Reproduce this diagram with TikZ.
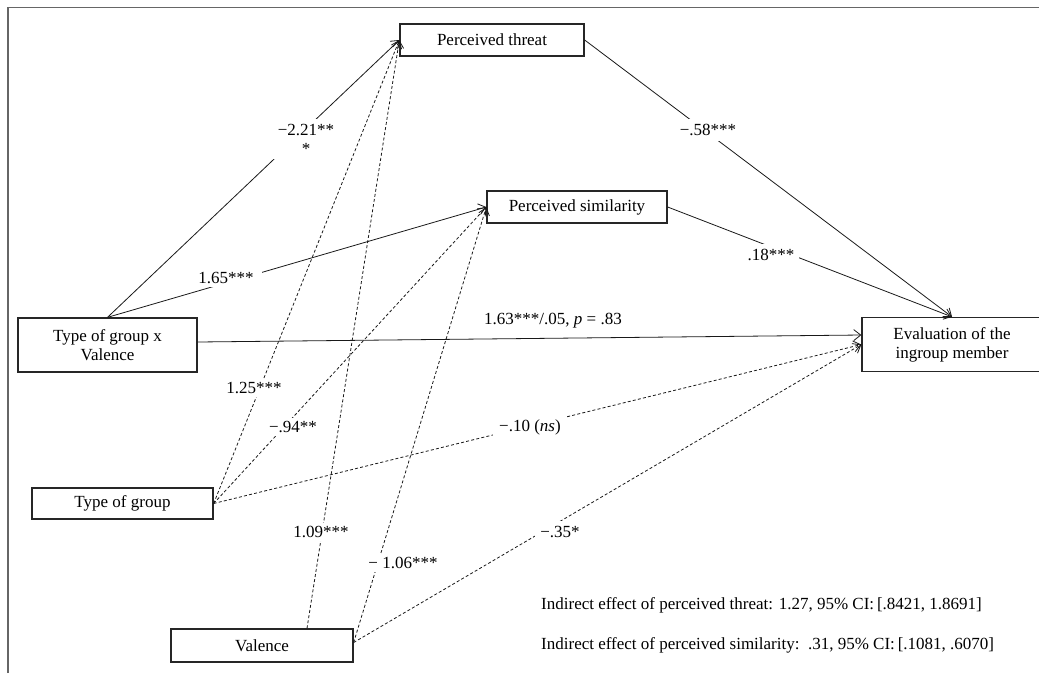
\documentclass[tikz,border=0pt]{standalone}
\usepackage{fontspec}
\setmainfont{Liberation Serif}
\usetikzlibrary{arrows.meta}
\begin{document}
\begin{tikzpicture}[x=1pt,y=-1pt,
  every node/.style={font=\fontsize{17}{19}\selectfont},
  box/.style={draw=black!85, line width=1.3pt, rectangle, inner sep=0pt, align=center},
  lbl/.style={fill=white, inner sep=3pt, align=center},
  conn/.style={line width=0.8pt, black!90, -{Straight Barb[length=7pt,width=11pt]}},
  dconn/.style={conn, dash pattern=on 3pt off 2.2pt}
]
\useasboundingbox (0,0) rectangle (1039,673);
% frame
\draw[black!60, line width=1.6pt] (8,673) -- (8,7.5) -- (1039,7.5);
% nodes
\node[box, minimum width=184pt, minimum height=32pt] (thr) at (492,40) {Perceived threat};
\node[box, minimum width=180pt, minimum height=32pt] (sim) at (577,207) {Perceived similarity};
\node[box, minimum width=179pt, minimum height=54pt] (tgv) at (107.5,345) {Type of group x\\Valence};
\node[box, minimum width=180pt, minimum height=54pt] (ev) at (952,344.5) {Evaluation of the\\ingroup member};
\node[box, minimum width=181pt, minimum height=31pt] (tg) at (122.5,503.5) {Type of group};
\node[box, minimum width=182pt, minimum height=33pt] (val) at (262,645.5) {Valence};
% solid connectors
\draw[conn] (tgv.north) -- (thr.west);
\draw[conn] (tgv.north) -- (sim.west);
\draw[conn] (thr.east) -- (ev.north);
\draw[conn] (sim.east) -- (ev.north);
\draw[conn] ([yshift=3pt]tgv.east) -- ([yshift=9.5pt]ev.west);
% dashed connectors
\draw[dconn] (tg.east) -- (thr.west);
\draw[dconn] (tg.east) -- (sim.west);
\draw[dconn] (tg.east) -- (ev.west);
\draw[dconn] ([xshift=45pt]val.north) -- (thr.west);
\draw[dconn] ([yshift=3pt]val.east) -- (sim.west);
\draw[dconn] ([yshift=3pt]val.east) -- (ev.west);
% labels
\node[lbl, inner sep=5pt] (l1) at (306,139) {−2.21**\\*};
\node[lbl, inner xsep=8pt] (l2) at (226,278) {1.65***};
\node[lbl, inner sep=5pt] (l3) at (708,130) {−.58***};
\node[lbl, inner sep=5pt] (l4) at (771,255) {.18***};
\node[inner sep=1pt] (l5) at (553,321) {1.63***/.05, \textit{p} = .83};
\node[lbl] (l6) at (254,388) {1.25***};
\node[lbl] (l7) at (293,427) {−.94**};
\node[lbl, inner xsep=6pt] (l8) at (530,427) {−.10 (\textit{ns})};
\node[lbl] (l9) at (321,532) {1.09***};
\node[lbl] (l10) at (403,563) {− 1.06***};
\node[lbl, inner sep=5pt] (l11) at (560,532) {−.35*};
\node[anchor=west, inner sep=0pt] (ind1) at (541,605) {Indirect effect of perceived threat: 1.27, 95\% CI:\,[.8421, 1.8691]};
\node[anchor=west, inner sep=0pt] (ind2) at (541,645) {Indirect effect of perceived similarity:\ \ .31, 95\% CI:\,[.1081, .6070]};
\end{tikzpicture}
\end{document}
